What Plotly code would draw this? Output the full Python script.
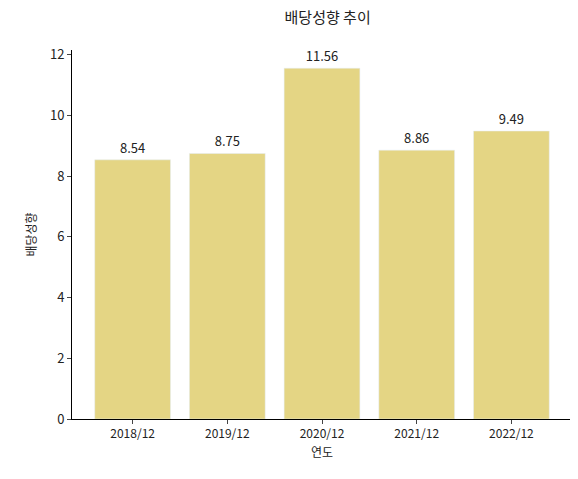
import plotly.graph_objects as go

years = ["2018/12", "2019/12", "2020/12", "2021/12", "2022/12"]
values = [8.54, 8.75, 11.56, 8.86, 9.49]
labels = [f"{v:.2f}" for v in values]

fig = go.Figure(go.Bar(
    x=years, y=values, text=labels, textposition="outside",
    marker_color="#E4D584", width=0.8,
    textfont=dict(size=13, color="#222"), cliponaxis=False,
))
fig.update_layout(
    width=578, height=479,
    margin=dict(l=64, r=14, t=42, b=68, pad=0),
    plot_bgcolor="white", paper_bgcolor="white",
    font=dict(family="Noto Sans CJK KR", size=12, color="#222"),
    title=dict(text="배당성향 추이", x=0.553, xanchor="center", y=0.99, font=dict(size=15)),
    bargap=0.2, showlegend=False,
    uniformtext=dict(minsize=12, mode="show"),
)
fig.update_xaxes(title=dict(text="연도", standoff=8, font=dict(size=12)), showline=True, linecolor="black",
                 ticks="outside", ticklen=4, range=[-0.64, 4.64], type="category", tickfont=dict(size=12))
fig.update_yaxes(title=dict(text="배당성향", standoff=10, font=dict(size=12)), showline=True, linecolor="black",
                 ticks="outside", ticklen=4, range=[0, 12.16], dtick=2, showgrid=False, zeroline=False,
                 tickfont=dict(size=13))
fig.write_html("out.html")
